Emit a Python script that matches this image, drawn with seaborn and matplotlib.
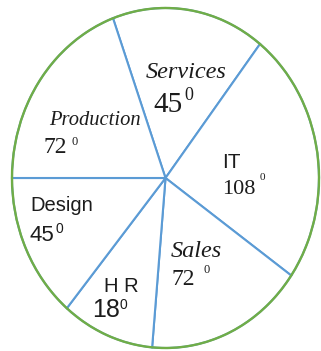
import matplotlib
matplotlib.use("Agg")
import matplotlib.pyplot as plt
import seaborn as sns

# ---- data ----
names = ["Services", "IT", "Sales", "H R", "Design", "Production"]
degrees = [45, 108, 72, 18, 45, 72]          # values written on the chart
drawn_sizes = [58, 87, 60, 35, 50, 70]       # wedge sizes as drawn in the picture

sns.set_theme(style="white")

W, H = 321, 351
fig = plt.figure(figsize=(W / 100, H / 100), dpi=100)
fig.patch.set_facecolor("white")
ax = fig.add_axes([12 / W, 3 / H, 307 / W, 340 / H])

blue = "#5b9bd5"
green = "#70ad47"
txt = "#1c1c1c"

ax.pie(drawn_sizes, startangle=110, counterclock=False,
       colors=["white"] * len(drawn_sizes),
       wedgeprops=dict(edgecolor=blue, linewidth=1.5, clip_on=False))
ax.pie([1], colors=["white"],
       wedgeprops=dict(edgecolor=green, linewidth=1.7, fill=False, clip_on=False))
ax.set_aspect("auto")
ax.set_xlim(-1, 1)
ax.set_ylim(-1, 1)
ax.axis("off")

SANS = "Liberation Sans"
SERIF = "Liberation Serif"

def put(px, py, s, size, family, style="normal"):
    fig.text(px / W, 1 - py / H, s, fontsize=size, family=family,
             style=style, ha="left", va="baseline", color=txt)

# label styles: (name pos, name size, name font, name style,
#                num pos, num size, num font, sup pos, sup size)
styles = {
    "Services":   ((146, 78), 17.5, SERIF, "italic", (153, 112), 21, SERIF, (184, 100), 13),
    "IT":         ((222, 168), 15, SANS, "normal", (222, 194), 16, SERIF, (260, 180), 8),
    "Sales":      ((171, 257), 17.5, SERIF, "italic", (172, 285), 17, SERIF, (204, 273), 9),
    "H R":        ((104, 292), 14.5, SANS, "normal", (92, 317), 18, SANS, (120, 309), 10),
    "Design":     ((30, 211), 14.5, SANS, "normal", (30, 241), 16, SANS, (55, 233), 10),
    "Production": ((49, 125), 14.8, SERIF, "italic", (44, 153), 17, SERIF, (71, 145), 9),
}

for name, deg in zip(names, degrees):
    npos, nsz, nf, nst, dpos, dsz, df, spos, ssz = styles[name]
    put(npos[0], npos[1], name, nsz, nf, nst)
    put(dpos[0], dpos[1], str(deg), dsz, df)
    put(spos[0], spos[1], "0", ssz, df)

fig.savefig("out.png", dpi=100, facecolor="white")
